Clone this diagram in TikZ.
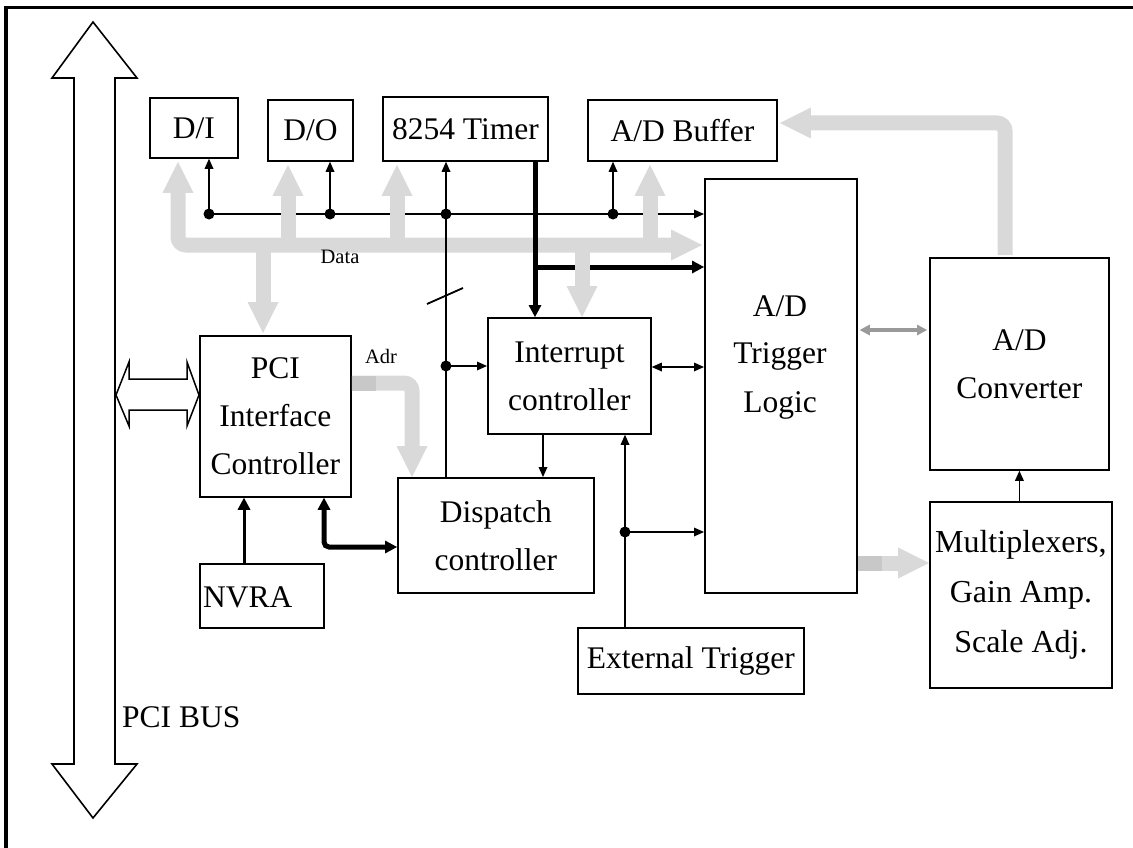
\documentclass[tikz,border=0pt]{standalone}
\usepackage{fontspec}
\setmainfont{Liberation Serif}
\usetikzlibrary{arrows.meta}
\definecolor{gbus}{HTML}{D9D9D9}
\definecolor{gbusdark}{HTML}{C8C8C8}
\definecolor{gmid}{HTML}{9A9A9A}
\tikzset{
  GT/.tip={Triangle[length=31pt,width=31pt,line width=0pt]},
  BT/.tip={Triangle[length=10pt,width=9pt,line width=0pt]},
  KT/.tip={Triangle[length=12pt,width=13pt,line width=0pt]},
  MT/.tip={Triangle[length=10pt,width=11pt,line width=0pt]},
}
\begin{document}
\begin{tikzpicture}[x=1pt,y=-1pt,
  box/.style={draw, line width=1.8pt, anchor=north west, inner sep=0pt, align=center,
    font=\fontsize{31.5}{48}\selectfont},
  lbl/.style={inner sep=0pt, font=\fontsize{31.5}{48}\selectfont, align=center},
  small/.style={inner sep=0pt, font=\fontsize{20.5}{24}\selectfont},
  thinln/.style={line width=1.8pt},
  tarr/.style={line width=1.8pt, -BT},
  karr/.style={line width=5pt, -KT},
  gbusln/.style={line width=15pt, draw=gbus},
  dot/.style={circle, fill=black, inner sep=0pt, minimum size=11pt}
]
\useasboundingbox (0,0) rectangle (1133,848);
% frame
\draw[line width=3.5pt] (6,848) -- (6,7.5) -- (1133,7.5);

% PCI BUS vertical double arrow
\draw[line width=1.6pt, line join=miter]
  (74,78) -- (52,78) -- (93,22) -- (137,78) -- (115,78) -- (115,764) -- (137,764)
  -- (93,818) -- (52,764) -- (74,764) -- cycle;
\node[lbl, anchor=west] (pcibus) at (122,717) {PCI BUS};

% boxes
\node[box, minimum width=88pt,  minimum height=60pt]  (DI)  at (149,97)  {D/I};
\node[box, minimum width=85pt,  minimum height=61pt]  (DO)  at (267,99)  {D/O};
\node[box, minimum width=165pt, minimum height=64pt]  (TM)  at (382,96)  {8254 Timer};
\node[box, minimum width=189pt, minimum height=61pt]  (BUF) at (587,99)  {A/D Buffer};
\node[box, minimum width=152pt, minimum height=414pt] (TL)  at (704,178) {};
\node[lbl] (TLtext) at (780,357) {A/D\\Trigger\\Logic};
\node[box, minimum width=179pt, minimum height=212pt] (ADC) at (929,257) {A/D\\Converter};
\node[box, minimum width=182pt, minimum height=186pt,
      font=\fontsize{32}{50}\selectfont] (MUX) at (929,501) {Multiplexers,\\Gain Amp.\\Scale Adj.};
\node[box, minimum width=163pt, minimum height=116pt] (IC)  at (487,317) {Interrupt\\controller};
\node[box, minimum width=196pt, minimum height=115pt] (DC)  at (397,477) {Dispatch\\controller};
\node[box, minimum width=226pt, minimum height=66pt]  (ET)  at (577,627) {External Trigger};
\node[box, minimum width=151pt, minimum height=161pt] (PCI) at (199,335) {PCI\\Interface\\Controller};
\node[box, minimum width=124pt, minimum height=64pt]  (NV)  at (199,563) {};
\node[lbl, anchor=west] (NVtext) at (203,597) {NVRA};

% PCI side double arrow
\draw[line width=1.5pt, line join=miter]
  (116,395) -- (129,362) -- (129,379) -- (187,379) -- (187,362) -- (PCI.west |- 0,395)
  -- (187,426) -- (187,410) -- (129,410) -- (129,426) -- cycle;

% coordinates
\coordinate (b1) at (209,214);
\coordinate (b2) at (330,214);
\coordinate (b3) at (446,214);
\coordinate (b4) at (613,214);
\coordinate (b5) at (446,366);
\coordinate (t0) at (535,214);
\coordinate (t1) at (535,267);
\coordinate (g1) at (178,245);
\coordinate (g2) at (288,245);
\coordinate (g3) at (397,245);
\coordinate (g4) at (650,245);
\coordinate (g5) at (263,245);
\coordinate (g6) at (582,245);
\coordinate (a1) at (412,383);
\coordinate (c1) at (1005,123);
\coordinate (m1) at (880,563);
\coordinate (r1) at (890,330);
\coordinate (i1) at (680,367);
\coordinate (i2) at (543,450);
\coordinate (e1) at (625,532);
\coordinate (n1) at (244,530);
\coordinate (k1) at (324,547);
\coordinate (s1) at (427,304);
\coordinate (s2) at (463,288);

% thin horizontal control bus (below grey)
\draw[tarr] (b1) -- (TL.west |- b1);
% thick horizontal (below grey)
\draw[karr] (t1) -- (TL.west |- t1);

% grey data bus
\draw[gbusln, GT-GT, rounded corners=8pt, shorten <=3pt, shorten >=2pt] (DI.south -| g1) |- (TL.west |- g1);
\draw[gbusln, -GT, shorten >=3pt] (g2) -- (DO.south -| g2);
\draw[gbusln, -GT, shorten >=3pt] (g3) -- (TM.south -| g3);
\draw[gbusln, -GT, shorten >=3pt] (g4) -- (BUF.south -| g4);
\draw[gbusln, -GT, shorten >=2pt] (g5) -- (PCI.north -| g5);
\draw[gbusln, -GT] (g6) -- (IC.north -| g6);
% Adr
\draw[gbusln, -GT, rounded corners=8pt] (PCI.east |- a1) -- (a1) -- (DC.north -| a1);
\draw[gbusln, draw=gbusdark] (PCI.east |- a1) -- ++(24,0);
% converter -> buffer
\draw[gbusln, -GT, rounded corners=8pt, shorten <=2pt, shorten >=2pt] (ADC.north -| c1) -- (c1) -- (BUF.east |- c1);
% trigger -> mux
\draw[gbusln, -GT] (TL.east |- m1) -- (MUX.west |- m1);
\draw[gbusln, draw=gbusdark] (TL.east |- m1) -- ++(24,0);
% trigger <-> converter
\draw[line width=4pt, draw=gmid, MT-MT, shorten <=2pt, shorten >=2pt] (TL.east |- r1) -- (ADC.west |- r1);

\node[small] (datalbl) at (340,257) {Data};
\node[small] (adrlbl) at (381,356) {Adr};

% thin verticals
\draw[tarr] (b1) -- (DI.south -| b1);
\draw[tarr] (b2) -- (DO.south -| b2);
\draw[tarr] (DC.north -| b3) -- (TM.south -| b3);
\draw[tarr] (b4) -- (BUF.south -| b4);
\draw[tarr] (b5) -- (IC.west |- b5);
\draw[thinln] (s1) -- (s2);
\node[dot] at (b1) {};
\node[dot] at (b2) {};
\node[dot] at (b3) {};
\node[dot] at (b4) {};
\node[dot] at (b5) {};

% thick vertical from timer
\draw[karr] (TM.south -| t0) -- (IC.north -| t0);

% interrupt <-> trigger
\draw[tarr, BT-BT] (IC.east |- i1) -- (TL.west |- i1);
\draw[tarr] (IC.south -| i2) -- (DC.north -| i2);
% external trigger
\draw[tarr] (ET.north -| e1) -- (IC.south -| e1);
\draw[tarr] (e1) -- (TL.west |- e1);
\node[dot] at (e1) {};
% mux -> converter
\draw[tarr] (MUX.north -| ADC.south) -- (ADC.south);
% NVRA -> PCI
\draw[line width=3pt, -KT] (NV.north -| n1) -- (PCI.south -| n1);
% PCI <-> dispatch thick
\draw[line width=5pt, KT-KT, rounded corners=5pt] (PCI.south -| k1) -- (k1) -- (DC.west |- k1);
\end{tikzpicture}
\end{document}
